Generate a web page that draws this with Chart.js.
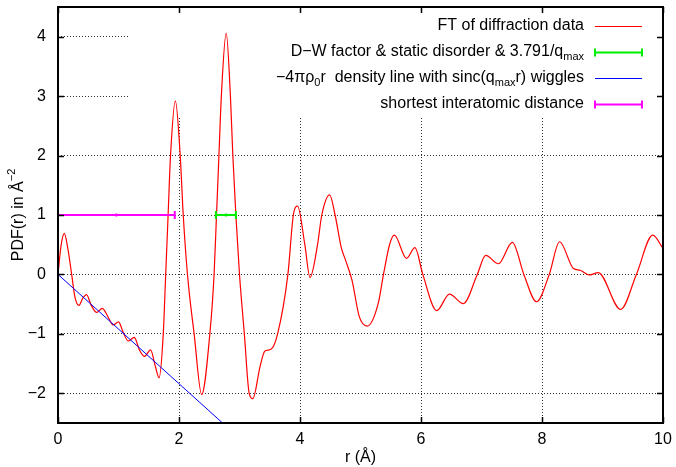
<!DOCTYPE html>
<html><head><meta charset="utf-8">
<script src="https://cdn.jsdelivr.net/npm/chart.js@4/dist/chart.umd.min.js"></script>
<style>html,body{margin:0;padding:0;background:#fff}#wrap{width:676px;height:467px;position:relative}</style>
</head><body><div id="wrap"><canvas id="c" width="676" height="467"></canvas></div>
<script>
// ---- data ----
const pdfR = [0.00,0.05,0.105,0.16,0.226,0.28,0.347,0.41,0.47,0.55,0.64,0.73,0.82,0.91,1.00,1.08,1.16,1.26,1.35,1.43,1.53,1.61,1.67,1.74,1.78,1.82,1.86,1.94,2.02,2.07,2.14,2.25,2.375,2.51,2.58,2.62,2.66,2.70,2.78,2.85,2.89,2.94,3.00,3.08,3.16,3.22,3.34,3.42,3.52,3.63,3.80,3.89,3.96,4.08,4.165,4.29,4.36,4.49,4.58,4.68,4.76,4.86,4.98,5.11,5.29,5.38,5.48,5.56,5.76,5.90,6.03,6.26,6.47,6.70,6.93,7.07,7.28,7.51,7.70,7.91,8.12,8.29,8.52,8.63,8.78,8.93,9.30,9.56,9.83,10.00];
const pdfVal = [0.00,0.48,0.69,0.45,0.00,-0.38,-0.52,-0.40,-0.34,-0.52,-0.64,-0.57,-0.70,-0.85,-0.80,-0.98,-1.12,-1.06,-1.28,-1.38,-1.27,-1.55,-1.74,-1.00,0.00,1.00,2.00,2.92,2.00,1.00,0.00,-1.00,-2.02,-1.00,0.00,1.00,2.00,3.00,4.06,3.00,2.00,1.00,0.00,-1.00,-2.00,-2.09,-1.55,-1.29,-1.26,-1.00,0.00,1.00,1.15,0.50,-0.05,0.50,1.00,1.34,1.00,0.46,0.22,-0.10,-0.71,-0.87,-0.50,0.00,0.50,0.66,0.27,0.45,0.00,-0.61,-0.33,-0.49,0.00,0.32,0.18,0.54,0.00,-0.46,0.00,0.55,0.10,0.07,-0.01,0.03,-0.59,0.00,0.66,0.44];
const densityR = [0, 2.72];
const densityVal = [0, -2.5];
const dwR = [2.61, 2.78, 2.94];
const dwVal = [1, 1, 1];
const shortestR = [0, 0.965, 1.93];
const shortestVal = [1, 1, 1];
const xTicks = [0, 2, 4, 6, 8, 10];
const yTicks = [-2, -1, 0, 1, 2, 3, 4];
const xTitle = 'r (Å)';
const yTitle = [{t:'PDF(r) in Å'}, {t:'−2', sup:true}];
const legendRows = [
  [{t:'FT of diffraction data'}],
  [{t:'D−W factor & static disorder & 3.791/q'}, {t:'max', sub:true}],
  [{t:'−4πρ'}, {t:'0', sub:true}, {t:'r  density line with sinc(q'}, {t:'max', sub:true}, {t:'r) wiggles'}],
  [{t:'shortest interatomic distance'}]
];

const FONT = '"Liberation Sans", Arial, Helvetica, sans-serif';
const COLORS = {red:'#ff0000', green:'#00ee00', blue:'#0000ff', mag:'#ff00ff'};
const pts = (xs, ys) => xs.map((x, i) => ({x, y: ys[i]}));

function richWidth(ctx, segs){
  let w = 0;
  for (const s of segs){ ctx.font = (s.sub||s.sup ? '11px ' : '16px ') + FONT; w += ctx.measureText(s.t).width; }
  return w;
}
function drawRich(ctx, segs, x, y){
  for (const s of segs){
    ctx.font = (s.sub||s.sup ? '11px ' : '16px ') + FONT;
    const dy = s.sub ? 5 : (s.sup ? -7 : 0);
    ctx.fillText(s.t, x, y + dy);
    x += ctx.measureText(s.t).width;
  }
}

const decor = {
  id: 'decor',
  beforeDatasetsDraw(chart){
    const {ctx, chartArea:a} = chart;
    ctx.save();
    ctx.fillStyle = '#fff';
    ctx.fillRect(128, a.top + 1, a.right - 129, 117 - a.top);
    ctx.restore();
  },
  afterDatasetsDraw(chart){
    const {ctx, chartArea:a, scales:{x, y}} = chart;
    ctx.save();
    ctx.strokeStyle = '#000'; ctx.lineWidth = 2;
    ctx.strokeRect(a.left, a.top, a.right - a.left, a.bottom - a.top);
    ctx.lineWidth = 1.5;
    ctx.beginPath();
    for (const v of xTicks){
      const px = Math.round(x.getPixelForValue(v)) + 0.5;
      ctx.moveTo(px, a.bottom); ctx.lineTo(px, a.bottom - 6);
      ctx.moveTo(px, a.top); ctx.lineTo(px, a.top + 6);
    }
    for (const v of yTicks){
      const py = Math.round(y.getPixelForValue(v)) + 0.5;
      ctx.moveTo(a.left, py); ctx.lineTo(a.left + 6, py);
      ctx.moveTo(a.right, py); ctx.lineTo(a.right - 6, py);
    }
    ctx.stroke();

    ctx.textBaseline = 'middle';
    ctx.fillStyle = '#000';
    const textRight = a.right - 79, s0 = a.right - 68, s1 = a.right - 21;
    const styles = [
      {c:COLORS.red, w:1, bar:false},
      {c:COLORS.green, w:2, bar:true},
      {c:COLORS.blue, w:1, bar:false},
      {c:COLORS.mag, w:2, bar:true}
    ];
    legendRows.forEach((segs, i) => {
      const cy = a.top + 19 + i * 26;
      ctx.fillStyle = '#000';
      drawRich(ctx, segs, textRight - richWidth(ctx, segs), cy);
      const st = styles[i];
      ctx.strokeStyle = st.c; ctx.lineWidth = st.w;
      ctx.beginPath();
      ctx.moveTo(s0, cy + 0.5); ctx.lineTo(s1, cy + 0.5);
      if (st.bar){
        ctx.moveTo(s0, cy - 3.5); ctx.lineTo(s0, cy + 4.5);
        ctx.moveTo(s1, cy - 3.5); ctx.lineTo(s1, cy + 4.5);
      }
      ctx.stroke();
    });

    ctx.translate(19, (a.top + a.bottom) / 2);
    ctx.rotate(-Math.PI / 2);
    ctx.fillStyle = '#000';
    drawRich(ctx, yTitle, -richWidth(ctx, yTitle) / 2, 0);
    ctx.restore();
  }
};

new Chart(document.getElementById('c'), {
  type: 'line',
  data: {
    datasets: [
      {label:'FT of diffraction data', data: pts(pdfR, pdfVal), borderColor: COLORS.red, borderWidth: 1.2,
        pointRadius: 0, cubicInterpolationMode: 'monotone', order: 4},
      {label:'D−W factor & static disorder & 3.791/qmax', data: pts(dwR, dwVal), borderColor: COLORS.green, borderWidth: 2,
        pointStyle: 'line', rotation: 90, pointRadius: [4, 1.5, 4], pointBorderWidth: 2, pointBorderColor: COLORS.green, order: 3},
      {label:'−4πρ0r density line with sinc(qmax r) wiggles', data: pts(densityR, densityVal), borderColor: COLORS.blue, borderWidth: 1,
        pointRadius: 0, order: 2},
      {label:'shortest interatomic distance', data: pts(shortestR, shortestVal), borderColor: COLORS.mag, borderWidth: 2,
        pointStyle: 'line', rotation: 90, pointRadius: [4, 1.5, 4], pointBorderWidth: 2, pointBorderColor: COLORS.mag, order: 1}
    ]
  },
  options: {
    responsive: false,
    animation: false,
    devicePixelRatio: 1,
    layout: {padding: {top: 7, right: 13, left: 0, bottom: 0}},
    plugins: {legend: {display: false}, tooltip: {enabled: false}},
    scales: {
      x: {
        type: 'linear', min: 0, max: 10,
        afterBuildTicks: s => { s.ticks = xTicks.map(v => ({value: v})); },
        afterFit: s => { s.height = 44; s.paddingLeft = 0; s.paddingRight = 0; },
        grid: {color: 'rgba(0,0,0,0.8)', lineWidth: 1, drawTicks: false},
        border: {display: false, dash: [1, 2]},
        ticks: {color: '#000', font: {family: FONT, size: 16}, padding: 7, maxRotation: 0},
        title: {display: true, text: xTitle, color: '#000', font: {family: FONT, size: 16}, padding: {top: 0, bottom: 0}}
      },
      y: {
        type: 'linear', min: -2.5, max: 4.5,
        afterBuildTicks: s => { s.ticks = yTicks.map(v => ({value: v})); },
        afterFit: s => { s.width = 58; s.paddingTop = 0; s.paddingBottom = 0; },
        grid: {color: 'rgba(0,0,0,0.8)', lineWidth: 1, drawTicks: false},
        border: {display: false, dash: [1, 2]},
        ticks: {color: '#000', font: {family: FONT, size: 16}, padding: 12,
          callback: v => String(v).replace('-', '−')}
      }
    }
  },
  plugins: [decor]
});
</script>
</body></html>
